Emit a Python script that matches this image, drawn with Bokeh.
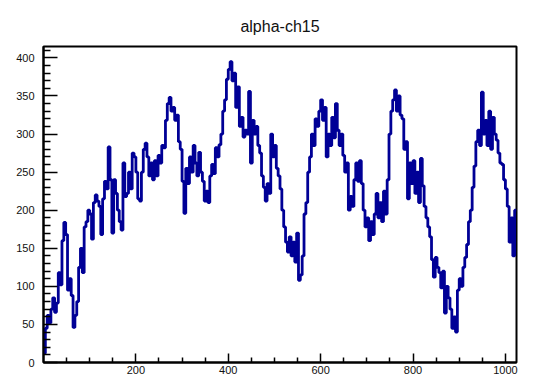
from bokeh.plotting import figure
from bokeh.models import FixedTicker, Range1d
from bokeh.embed import file_html
from bokeh.resources import INLINE

# Histogram "alpha-ch15": 1024 channels, contents listed per group of 4 channels
group_width = 4
n_channels = 1024
counts = [
    12, 45, 62, 52, 70, 85, 66, 78, 118, 102,
    160, 184, 168, 95, 110, 88, 46, 62, 80, 125,
    150, 118, 178, 185, 200, 195, 162, 210, 220, 212,
    205, 168, 215, 238, 228, 283, 240, 170, 240, 222,
    200, 185, 174, 262, 218, 222, 250, 228, 275, 270,
    250, 215, 212, 250, 280, 288, 270, 245, 262, 240,
    265, 245, 272, 262, 285, 282, 318, 340, 348, 330,
    335, 318, 325, 290, 280, 238, 196, 255, 235, 270,
    250, 285, 262, 245, 276, 250, 238, 212, 225, 210,
    245, 260, 248, 282, 270, 286, 300, 330, 345, 372,
    385, 395, 370, 380, 335, 362, 310, 322, 296, 305,
    300, 356, 262, 318, 300, 310, 285, 275, 245, 230,
    212, 235, 222, 300, 270, 285, 255, 245, 228, 200,
    178, 158, 145, 165, 140, 158, 132, 170, 108, 115,
    140, 195, 210, 250, 270, 300, 285, 320, 310, 330,
    345, 318, 335, 270, 300, 285, 322, 295, 340, 305,
    285, 300, 272, 250, 262, 200, 218, 205, 240, 262,
    238, 265, 235, 200, 178, 190, 160, 185, 168, 195,
    222, 190, 210, 185, 225, 195, 240, 300, 330, 345,
    358, 330, 350, 325, 320, 280, 290, 215, 262, 235,
    265, 222, 250, 210, 268, 232, 205, 190, 178, 165,
    135, 112, 138, 125, 118, 98, 120, 65, 100, 85,
    70, 45, 60, 40, 95, 110, 100, 125, 138, 155,
    185, 200, 230, 258, 290, 305, 285, 355, 300, 318,
    285, 330, 280, 322, 300, 292, 275, 262, 260, 240,
    228, 205, 158, 190, 140, 200,
]

x_major = [200, 400, 600, 800, 1000]
x_minor = [v for v in range(50, 1024, 50) if v not in x_major]
y_major = [0, 50, 100, 150, 200, 250, 300, 350, 400]
y_minor = [v for v in range(10, 411, 10) if v % 50]

edges = [i * group_width for i in range(len(counts))] + [n_channels]
heights = counts + [counts[-1]]

p = figure(width=541, height=378, output_backend="svg", toolbar_location=None,
           x_range=Range1d(0, n_channels), y_range=Range1d(0, 415),
           min_border_left=43, min_border_right=25, min_border_top=46,
           min_border_bottom=16)

p.step(edges, heights, mode="after", line_color="#000096", line_width=2.8)

p.title.text = "alpha-ch15"
p.title.align = "center"
p.title.text_font = "Liberation Sans"
p.title.text_font_size = "16px"
p.title.text_font_style = "normal"
p.title.text_color = "#111111"
p.title.standoff = 24

p.grid.visible = False
p.outline_line_color = "black"
p.outline_line_width = 2

font = "Liberation Sans"
xa = p.xaxis[0]
xa.ticker = FixedTicker(ticks=x_major, minor_ticks=x_minor)
xa.major_tick_in = 9
xa.major_tick_out = 0
xa.minor_tick_in = 5
xa.minor_tick_out = 0
xa.major_label_standoff = 3
xa.axis_line_width = 2
xa.major_tick_line_width = 1.5
xa.minor_tick_line_width = 1.5
xa.major_label_text_font = font
xa.major_label_text_font_size = "11px"
xa.major_label_text_color = "#111111"

ya = p.yaxis[0]
ya.ticker = FixedTicker(ticks=y_major, minor_ticks=y_minor)
ya.major_tick_in = 14
ya.major_tick_out = 0
ya.minor_tick_in = 7
ya.minor_tick_out = 0
ya.major_label_standoff = 9
ya.axis_line_width = 2
ya.major_tick_line_width = 1.5
ya.minor_tick_line_width = 1.5
ya.major_label_text_font = font
ya.major_label_text_font_size = "11px"
ya.major_label_text_color = "#111111"

open("out.html", "w").write(file_html(p, INLINE))
